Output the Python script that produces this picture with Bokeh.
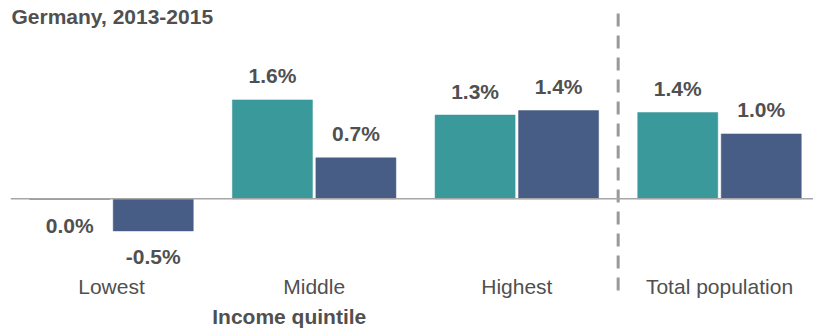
from bokeh.plotting import figure
from bokeh.models import Range1d, ColumnDataSource, Span, Label
from bokeh.core.properties import value
from bokeh.embed import file_html
from bokeh.resources import INLINE

# ---- data ----
categories = ["Lowest", "Middle", "Highest", "Total population"]
series_a = [-0.01, 1.57, 1.33, 1.37]      # teal series
series_b = [-0.51, 0.65, 1.40, 1.03]      # dark blue series
labels_a = ["0.0%", "1.6%", "1.3%", "1.4%"]
labels_b = ["-0.5%", "0.7%", "1.4%", "1.0%"]
title_text = "Germany, 2013-2015"
axis_title = "Income quintile"

# ---- styles ----
TEAL = "#3a999b"
BLUE = "#485d85"
TEXT = "#505050"
GRID = "#a6a6a6"
FONT_NAME = "Liberation Sans"
FONT = value(FONT_NAME)
FS = "21px"

p = figure(width=813, height=329, output_backend="svg", toolbar_location=None,
           x_range=Range1d(-0.4983, 3.4638), y_range=Range1d(-2.0746, 3.1476),
           x_axis_type=None, y_axis_type=None,
           min_border_left=10, min_border_right=0, min_border_top=0, min_border_bottom=0)
p.outline_line_color = None
p.grid.visible = False
p.background_fill_color = "white"

xs = list(range(len(categories)))
off = 0.206
bw = 0.395

src_a = ColumnDataSource(dict(x=[x - off for x in xs], top=series_a, lab=labels_a))
src_b = ColumnDataSource(dict(x=[x + off for x in xs], top=series_b, lab=labels_b))

p.vbar(x="x", top="top", bottom=0, width=bw, source=src_a, fill_color=TEAL,
       line_color=TEAL, line_width=0.5)
p.vbar(x="x", top="top", bottom=0, width=bw, source=src_b, fill_color=BLUE,
       line_color=BLUE, line_width=0.5)

# zero baseline
p.add_layout(Span(location=0, dimension="width", line_color=GRID, line_width=1.5))

# separator between quintiles and total
sep = (xs[2] + xs[3]) / 2
p.segment(x0=[sep], y0=[2.941], x1=[sep], y1=[-1.503], line_color="#999999",
          line_width=3, line_dash="13 9")

# value labels
for src, vals in ((src_a, series_a), (src_b, series_b)):
    src.data["yoff"] = [-24 if v > 0 else 26 for v in vals]
    p.text(x="x", y="top", text="lab", source=src, y_offset="yoff",
           text_align="center", text_baseline="alphabetic",
           text_font=FONT, text_font_size=FS, text_font_style="bold",
           text_color=TEXT)

# category labels
cat_src = ColumnDataSource(dict(x=xs, y=[0] * len(xs), t=categories))
p.text(x="x", y="y", text="t", source=cat_src, y_offset=88,
       text_align="center", text_baseline="alphabetic",
       text_font=FONT, text_font_size=FS, text_color=TEXT)

# axis title and chart title
p.add_layout(Label(x=0.877, y=-1.868, text=axis_title,
                   text_align="center", text_baseline="alphabetic",
                   text_font=FONT_NAME, text_font_size=FS, text_font_style="bold",
                   text_color=TEXT))
p.add_layout(Label(x=-0.4935, y=2.894, text=title_text,
                   text_align="left", text_baseline="alphabetic",
                   text_font=FONT_NAME, text_font_size=FS, text_font_style="bold",
                   text_color=TEXT))

open("out.html", "w").write(file_html(p, INLINE))
